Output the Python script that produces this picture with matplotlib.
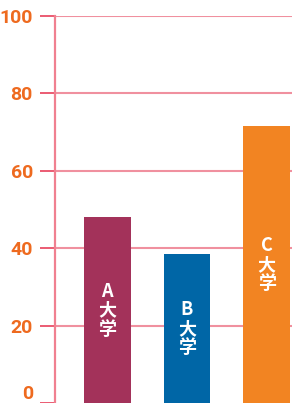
import matplotlib
matplotlib.use("Agg")
import matplotlib.pyplot as plt
from matplotlib import font_manager

categories = ["A\n大\n学", "B\n大\n学", "C\n大\n学"]
values = [48, 38.5, 71.6]
bar_colors = ["#A3325A", "#0066A6", "#F28422"]
yticks = [0, 20, 40, 60, 80, 100]
ytick_labels = ["0", "20", "40", "60", "80", "100"]

names = {f.name for f in font_manager.fontManager.ttflist}
num_font = "Liberation Sans Narrow" if "Liberation Sans Narrow" in names else "Roboto"

fig = plt.figure(figsize=(2.92, 4.03), dpi=100)
ax = fig.add_axes([55/292, 0, 237/292, 1 - 16/403])

x = list(range(len(categories)))
bars = ax.bar(x, values, width=47/80, color=bar_colors, zorder=3)

ax.set_xlim(-(107.5-55)/80, 2 + (292-266.5)/80)
ax.set_ylim(0, 100)

ax.set_yticks(yticks)
ax.set_yticklabels(ytick_labels, fontfamily=num_font, fontsize=14,
                   color="#EE6A1F", fontweight="bold")
ax.tick_params(axis="y", length=11, width=1.2, color="#E8405A", pad=5)
ax.set_xticks([])
for t in ax.get_yticklabels():
    if t.get_text() == "0":
        t.set_va("bottom")

for yv in yticks[1:]:
    ax.axhline(yv, color="#F0909F", lw=1.5, zorder=1)

for s in ["top", "right", "bottom"]:
    ax.spines[s].set_visible(False)
ax.spines["left"].set_color("#F08090")
ax.spines["left"].set_linewidth(1.6)

for xi, v, lab in zip(x, values, categories):
    ax.text(xi, v/2, lab, ha="center", va="center", color="white",
            fontsize=13, linespacing=1.0, fontweight="bold",
            family=["Noto Sans CJK JP", "DejaVu Sans"], zorder=4)

fig.savefig("out.png", dpi=100)
